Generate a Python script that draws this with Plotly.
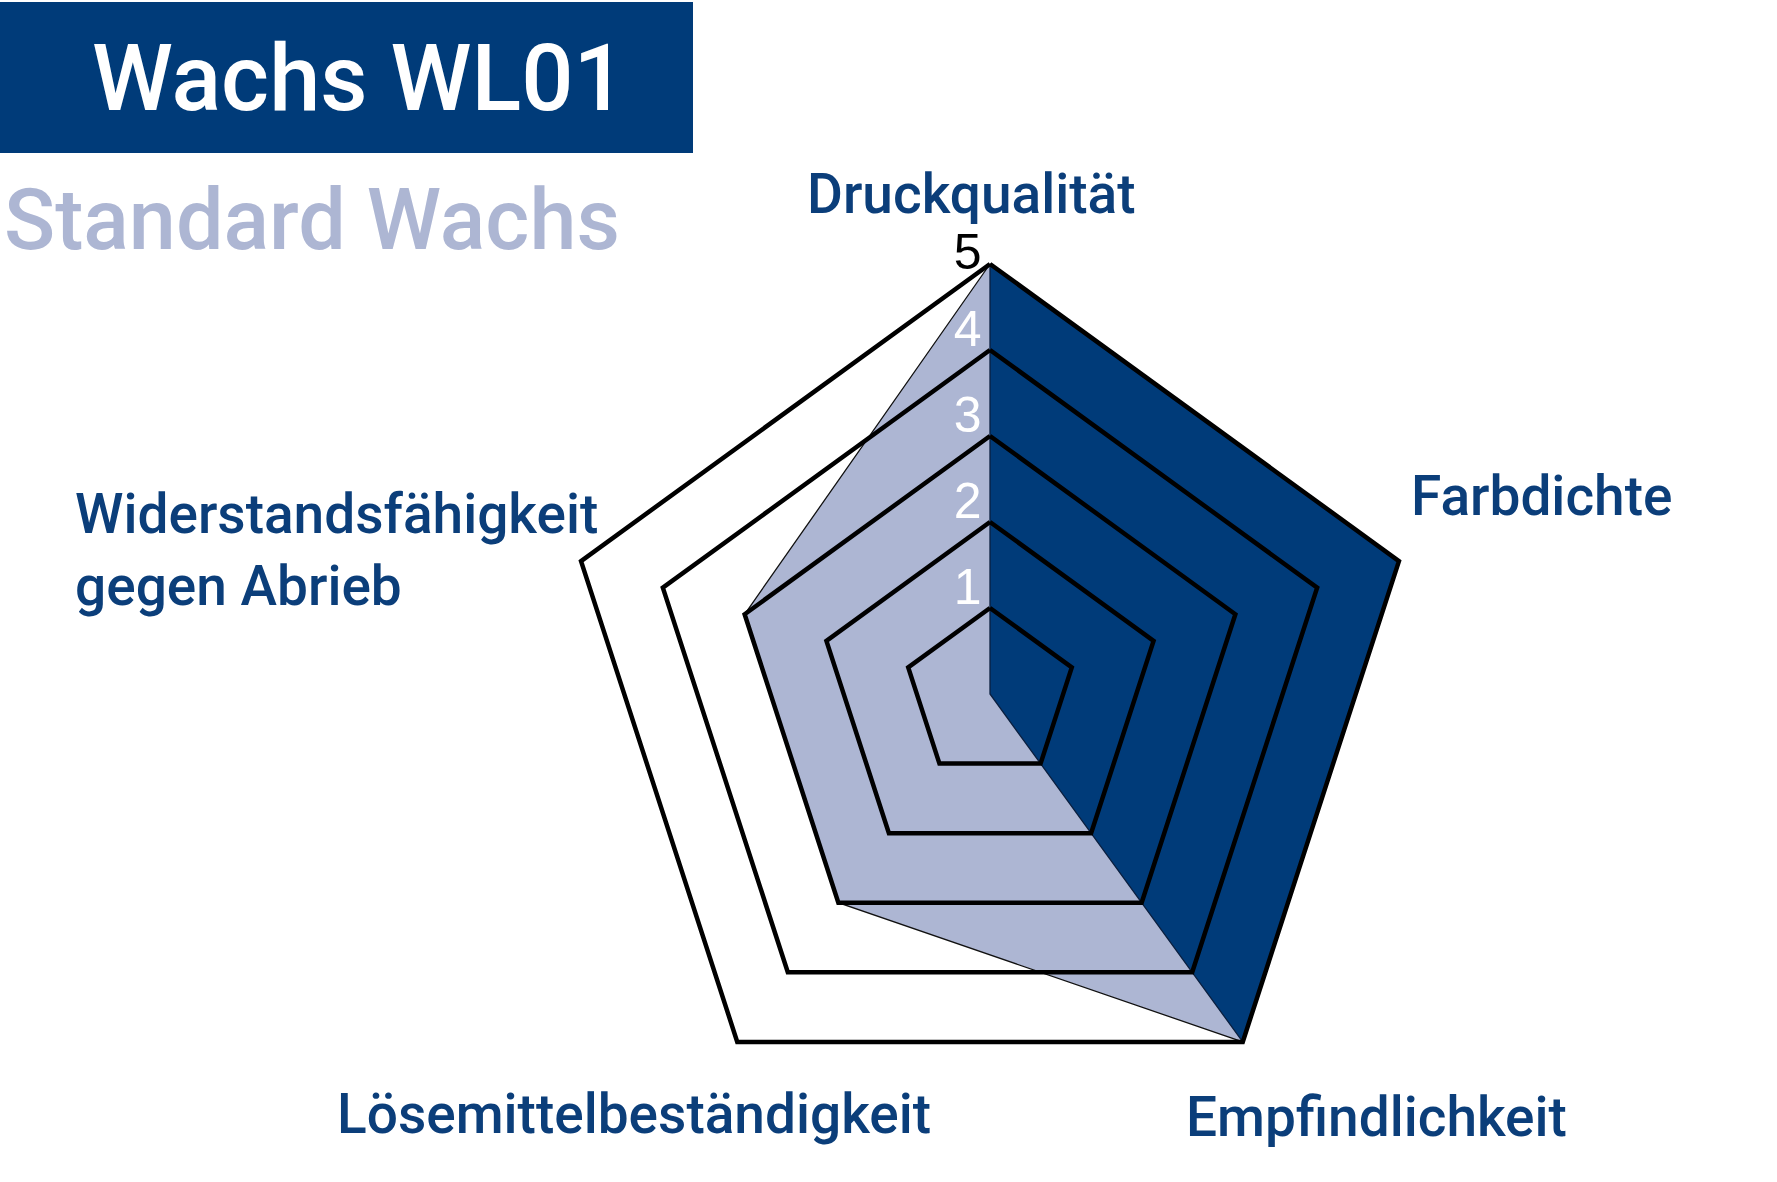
import plotly.graph_objects as go

# ---- data ----
categories = ["Druckqualität", "Farbdichte", "Empfindlichkeit",
              "Lösemittelbeständigkeit", "Widerstandsfähigkeit gegen Abrieb"]
standard_values = [5, 5, 5, 3, 3]     # light series
wl01_values = [5, 5, 5, 0, 0]         # dark series
grid_levels = [1, 2, 3, 4, 5]
tick_labels = ["1", "2", "3", "4", "5"]
title_text = "Wachs WL01"
subtitle_text = "Standard Wachs"

# ---- style ----
DARK = "#003b79"
LIGHT = "#adb6d3"
LABEL = "#0b3e7a"
W, H = 1777, 1182
R_MAX = 5.2                              # headroom so the outer grid line is not clipped
TICK_OFFSETS = [0.19, 0.19, 0.19, 0.19, 0.09]  # label placement above each ring

def close(seq):
    return list(seq) + [seq[0]]

fig = go.Figure()

fig.add_trace(go.Scatterpolar(
    r=close(standard_values), theta=close(categories), mode="lines",
    fill="toself", fillcolor=LIGHT, line=dict(color="#111111", width=1.3),
    hoverinfo="skip", showlegend=False))

fig.add_trace(go.Scatterpolar(
    r=close(wl01_values), theta=close(categories), mode="lines",
    fill="toself", fillcolor=DARK, line=dict(color="#0a1f3f", width=1.3),
    hoverinfo="skip", showlegend=False))

for lv in grid_levels:
    fig.add_trace(go.Scatterpolar(
        r=[lv] * (len(categories) + 1), theta=close(categories), mode="lines",
        line=dict(color="black", width=4.5),
        hoverinfo="skip", showlegend=False))

tick_colors = ["white"] * (len(tick_labels) - 1) + ["black"]
fig.add_trace(go.Scatterpolar(
    r=[lv + off for lv, off in zip(grid_levels, TICK_OFFSETS)],
    theta=[categories[0]] * len(grid_levels), mode="text",
    text=[t + "\u2006" for t in tick_labels], textposition="middle left",
    cliponaxis=False,
    textfont=dict(family="Liberation Sans, Arial", size=50, color=tick_colors),
    hoverinfo="skip", showlegend=False))

cx, cy, R5 = 990, 694, 430
Rd = R5 * R_MAX / 5
fig.update_layout(
    width=W, height=H,
    margin=dict(l=0, r=0, t=0, b=0),
    paper_bgcolor="white", plot_bgcolor="white",
    polar=dict(
        domain=dict(x=[(cx - Rd) / W, (cx + Rd) / W],
                    y=[(H - cy - Rd) / H, (H - cy + Rd) / H]),
        bgcolor="rgba(0,0,0,0)",
        gridshape="linear",
        radialaxis=dict(range=[0, R_MAX], visible=False, showgrid=False),
        angularaxis=dict(rotation=90, direction="clockwise", showgrid=False,
                         showline=False, showticklabels=False, ticks=""),
    ),
)

# title block
fig.add_shape(type="rect", xref="paper", yref="paper",
              x0=0, x1=693 / W, y0=1 - 153 / H, y1=1 - 2 / H,
              fillcolor=DARK, line=dict(width=0), layer="below")

fnt = "Roboto, Liberation Sans, Arial"
fig.add_annotation(text=title_text, xref="paper", yref="paper",
                   x=359 / W, y=1 - 79 / H, xanchor="center", yanchor="middle",
                   showarrow=False, font=dict(family=fnt, size=92, color="white", weight=500))
fig.add_annotation(text=subtitle_text, xref="paper", yref="paper",
                   x=2 / W, y=1 - 220 / H, xanchor="left", yanchor="middle",
                   showarrow=False, font=dict(family=fnt, size=84.5, color=LIGHT, weight=500))

labels = [
    (categories[0], 971, 194, "center"),
    (categories[1], 1409, 496, "left"),
    (categories[2], 1376, 1117, "center"),
    (categories[3], 634, 1114, "center"),
    ("Widerstandsfähigkeit<br>gegen Abrieb", 73, 550, "left"),
]
for txt, x, y, anc in labels:
    fig.add_annotation(text=txt, xref="paper", yref="paper",
                       x=x / W, y=1 - y / H, xanchor=anc, yanchor="middle",
                       align="left", showarrow=False,
                       font=dict(family=fnt, size=55, color=LABEL, weight=500))

fig.write_html("out.html", config={"displayModeBar": False},
               post_script="document.body.style.margin='0px';")
